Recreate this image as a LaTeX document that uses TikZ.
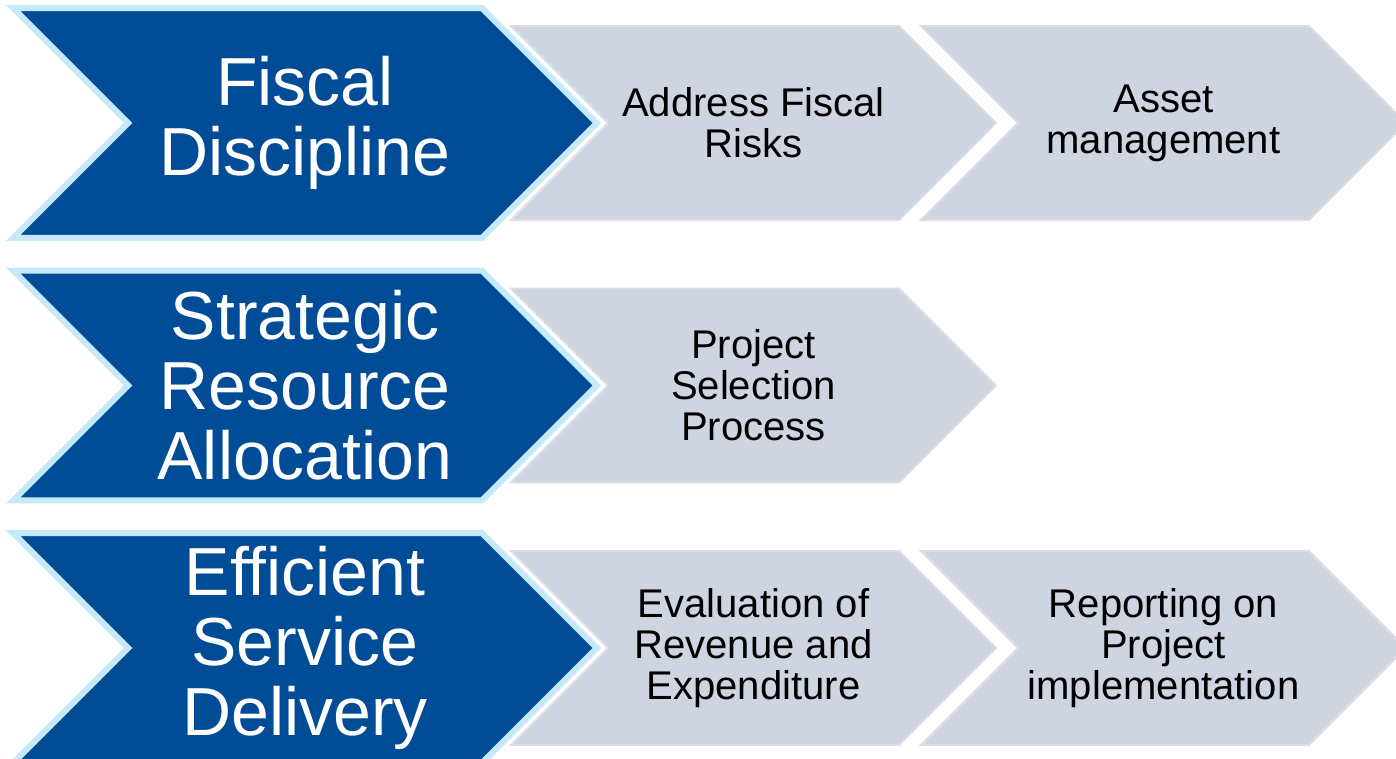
\documentclass[tikz,border=0pt]{standalone}
\usepackage{fontspec}
\setmainfont{Liberation Sans}
\usetikzlibrary{shapes.symbols}
\definecolor{goalblue}{HTML}{004C97}
\definecolor{goalrim}{HTML}{C6E9FA}
\definecolor{taskgray}{HTML}{CFD4E1}
\definecolor{taskrim}{HTML}{D9DDE6}

\begin{document}
\begin{tikzpicture}[x=0.02cm, y=-0.02cm]
\tikzset{
  goal/.style={shape=signal, signal from=west, signal to=east, fill=goalblue, draw=goalrim,
    line width=3.4pt, minimum width=11.68cm, minimum height=4.6cm, inner sep=0pt,
    text=white, align=center, font=\fontsize{38.7}{39.8}\selectfont},
  task/.style={shape=signal, signal from=west, signal to=east, fill=taskgray, draw=taskrim,
    line width=1.1pt, minimum width=9.7cm, minimum height=3.88cm, inner sep=0pt,
    align=center, font=\fontsize{22.8}{23.3}\selectfont}
}
\useasboundingbox (0, 0) rectangle (1396, 759);
\node[goal] (fiscal) at (305, 123) {Fiscal\\Discipline};
\node[task] (risks) at (753.5, 123) {Address Fiscal\\Risks};
\node[task] (assets) at (1163.5, 123) {Asset\\management};
\node[goal] (strategic) at (305, 385.5) {Strategic\\Resource\\Allocation};
\node[task] (selection) at (753.5, 385.5) {Project\\Selection\\Process};
\node[goal] (efficient) at (305, 648) {Efficient\\Service\\Delivery};
\node[task] (evaluation) at (753.5, 648) {Evaluation of\\Revenue and\\Expenditure};
\node[task] (reporting) at (1163.5, 648) {Reporting on\\Project\\implementation};
\end{tikzpicture}
\end{document}
